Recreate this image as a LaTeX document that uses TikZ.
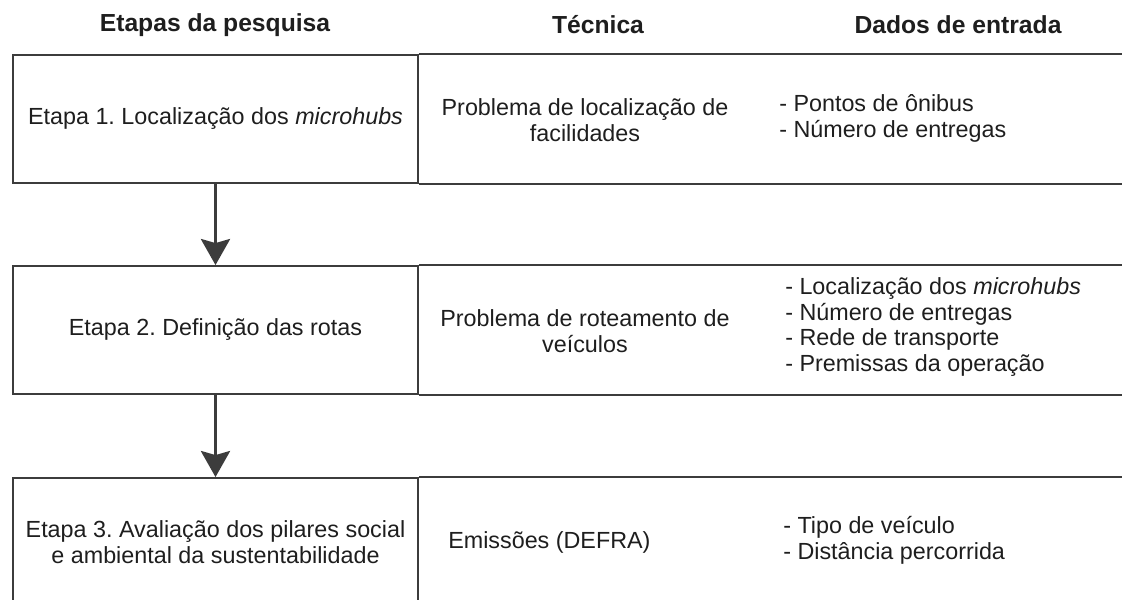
\documentclass[tikz,border=0pt]{standalone}
\usepackage{fontspec}
\setmainfont{Liberation Sans}
\usetikzlibrary{arrows.meta}
\definecolor{linegray}{RGB}{60,60,60}
\definecolor{textgray}{RGB}{30,30,30}
\frenchspacing

\begin{document}
\begin{tikzpicture}[x=0.75pt,y=-0.75pt,
    head/.style={draw=none,text=textgray,font=\bfseries\fontsize{18.5}{21}\selectfont},
    stage/.style={draw=linegray,line width=1.4pt,minimum width=303.75pt,minimum height=96pt,
        inner sep=0pt,align=center,text=textgray,font=\fontsize{17.5}{19.4}\selectfont},
    cell/.style={draw=none,inner sep=0pt,align=center,text=textgray,font=\fontsize{17.5}{19.4}\selectfont},
    rule/.style={draw=linegray,line width=1.4pt},
    flow/.style={draw=linegray,line width=2.8pt,-{Stealth[width=21.75pt,length=19.5pt,inset=3pt]}}]

\useasboundingbox (0,0) rectangle (1122,600);

% Column heads
\node [head] (hEtapas)  at (215,25) {Etapas da pesquisa};
\node [head] (hTecnica) at (598,25) {Técnica};
\node [head] (hDados)   at (958,25) {Dados de entrada};

% Stages
\node [stage] (s1) at (215.5,119) {Etapa 1. Localização dos \textit{microhubs}};
\node [stage] (s2) at (215.5,330) {Etapa 2. Definição das rotas};
\node [stage] (s3) at (215.5,542) {Etapa 3. Avaliação dos pilares social\\e ambiental da sustentabilidade};

% Open rows to the right edge
\coordinate (edge) at (1130,0);
\foreach \Stage in {s1,s2,s3}{
    \draw [rule] (\Stage.north east) -- (\Stage.north east -| edge);
    \draw [rule] (\Stage.south east) -- (\Stage.south east -| edge);
}

% Technique
\node [cell] (t1) at (585,120) {Problema de localização de\\facilidades};
\node [cell] (t2) at (585,331) {Problema de roteamento de\\veículos};
\node [cell,anchor=west] (t3) at (448,542) {Emissões (DEFRA)};

% Input data
\node [cell,anchor=west,align=left] (d1) at (779,118) {- Pontos de ônibus\\- Número de entregas};
\node [cell,anchor=west,align=left] (d2) at (785,327) {- Localização dos \textit{microhubs}\\- Número de entregas\\- Rede de transporte\\- Premissas da operação};
\node [cell,anchor=west,align=left] (d3) at (783,540) {- Tipo de veículo\\- Distância percorrida};

% Flow between stages
\draw [flow] (s1.south) -- (s2.north);
\draw [flow] (s2.south) -- (s3.north);

\end{tikzpicture}
\end{document}
